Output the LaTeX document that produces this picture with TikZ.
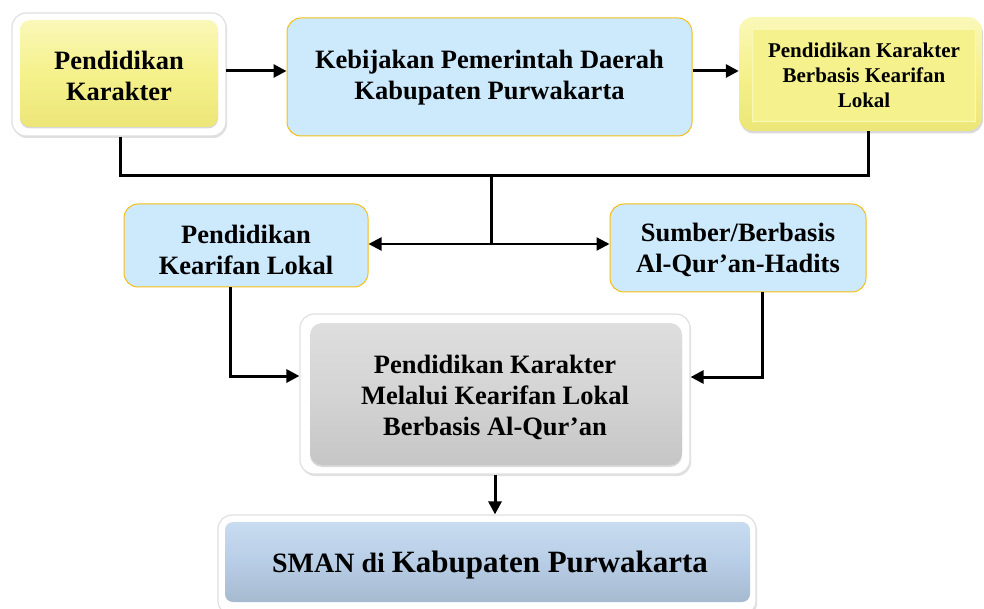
\documentclass[tikz,border=0pt]{standalone}
\usepackage{fontspec}
\setmainfont{Liberation Serif}
\usetikzlibrary{arrows.meta,shadows,calc}
\definecolor{ylw}{RGB}{245,241,140}
\definecolor{ylwlt}{RGB}{250,248,185}
\definecolor{ylwdk}{RGB}{236,230,120}
\definecolor{lblue}{RGB}{205,234,252}
\definecolor{orng}{RGB}{245,190,20}
\definecolor{gry}{RGB}{212,212,212}
\definecolor{grylt}{RGB}{222,222,222}
\definecolor{grydk}{RGB}{198,198,198}
\definecolor{sblue}{RGB}{184,206,230}
\definecolor{sbluelt}{RGB}{200,220,240}
\begin{document}
\begin{tikzpicture}[x=1pt,y=-1pt,
  frame/.style={draw=black!12, line width=1.2pt, fill=white, rounded corners=14pt,
     drop shadow={shadow xshift=1pt, shadow yshift=-2pt, opacity=.25}},
  bluebox/.style={draw=orng, line width=1pt, fill=lblue, rounded corners=14pt},
  txt/.style={font=\bfseries\fontsize{26.5}{31}\selectfont, align=center, text=black},
  smalltxt/.style={font=\bfseries\fontsize{21}{25}\selectfont, align=center, text=black},
  arr/.style={line width=3pt, -{Triangle[length=13pt,width=13pt]}},
  arrthin/.style={line width=2.2pt, -{Triangle[length=13pt,width=13pt]}},
  ln/.style={line width=3pt}]
\useasboundingbox (0,0) rectangle (984,609);
% Box 1
\node[frame, minimum width=214pt, minimum height=123pt] (n1f) at (119,74.5) {};
\node[rounded corners=10pt, top color=ylwlt, bottom color=ylwdk, middle color=ylw,
      minimum width=198pt, minimum height=107pt, drop shadow={shadow xshift=0pt, shadow yshift=-1.5pt, opacity=.3}] (n1) at (119,73.5) {};
\node[txt] (t1) at (119,76) {Pendidikan\\Karakter};
% Box 2
\node[bluebox, minimum width=405pt, minimum height=118pt] (n2) at (489.5,77) {};
\node[txt] (t2) at (489.5,78) {Kebijakan Pemerintah Daerah\\Kabupaten Purwakarta};
% Box 3
\node[rounded corners=14pt, top color=ylwlt, bottom color=ylwdk, middle color=ylw,
      minimum width=243pt, minimum height=114pt,
      drop shadow={shadow xshift=1pt, shadow yshift=-2.5pt, opacity=.3}] (n3) at (860.5,74) {};
\node[draw=ylwlt, line width=1pt, fill=ylw, minimum width=223pt, minimum height=92pt] (n3i) at (863.5,76) {};
\node[smalltxt] (t3) at (864,75) {Pendidikan Karakter\\Berbasis Kearifan\\Lokal};
% Box 4
\node[bluebox, minimum width=244pt, minimum height=83pt] (n4) at (246,245.5) {};
\node[txt] (t4) at (246,250) {Pendidikan\\Kearifan Lokal};
% Box 5
\node[bluebox, minimum width=256pt, minimum height=88pt] (n5) at (738,248) {};
\node[txt] (t5) at (738,250) {Sumber/Berbasis\\Al-Qur’an-Hadits};
% Gray box
\node[frame, minimum width=390pt, minimum height=160pt] (gf) at (495,394) {};
\node[rounded corners=12pt, top color=grylt, bottom color=grydk, middle color=gry,
      minimum width=372pt, minimum height=142pt,
      drop shadow={shadow xshift=0pt, shadow yshift=-2pt, opacity=.3}] (g) at (496,394) {};
\node[txt] (tg) at (495,397) {Pendidikan Karakter\\Melalui Kearifan Lokal\\Berbasis Al-Qur’an};
% SMAN box
\node[frame, minimum width=538pt, minimum height=100pt] (sf) at (487,565) {};
\node[rounded corners=8pt, top color=sbluelt, bottom color=sblue!90!black, middle color=sblue,
      minimum width=525pt, minimum height=80pt] (s) at (487.5,562) {};
\node[font=\bfseries, text=black] (ts) at (490,565) {{\fontsize{28}{32}\selectfont SMAN di }{\fontsize{31}{34}\selectfont Kabupaten Purwakarta}};
% Connectors
\coordinate (a1) at (226,71);
\draw[arr] (a1) -- (a1 -| n2.west);
\draw[arr] (n2.east |- a1) -- (n3.west |- a1);
\coordinate (c1) at ($(n1f.south)+(1,0)$);
\coordinate (c3) at ($(n3.south)+(7.5,0)$);
\coordinate (j) at (491,176);
\draw[ln] (c1) |- (j) -| (c3);
\coordinate (j2) at (491,244);
\draw[ln] (j) -- (j2);
\draw[arrthin] (j2) -- (n4.east |- j2);
\draw[arrthin] (j2) -- (n5.west |- j2);
\coordinate (l1) at ($(n4.south)+(-16,0)$);
\coordinate (l2) at (230,376);
\draw[arr] (l1) -- (l2) -- (l2 -| gf.west);
\coordinate (r1) at ($(n5.south)+(24,0)$);
\coordinate (r2) at (762,377);
\draw[arr] (r1) -- (r2) -- (r2 -| gf.east);
\draw[arr] (gf.south) -- (gf.south |- sf.north);
\end{tikzpicture}
\end{document}
